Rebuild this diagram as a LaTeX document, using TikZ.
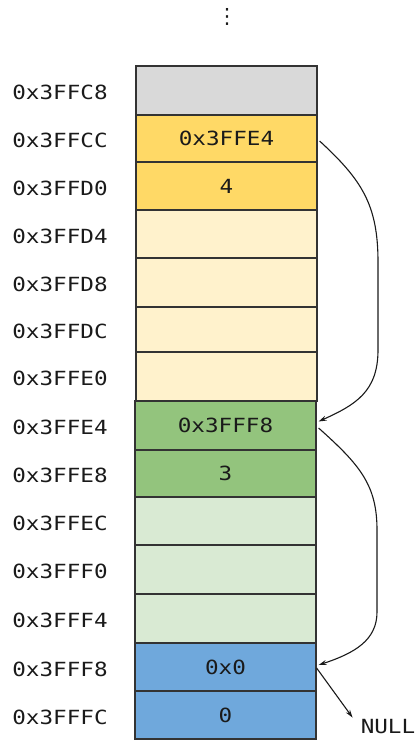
\documentclass[tikz,border=0pt]{standalone}
\usepackage{fontspec}
\setmonofont[FakeStretch=1.16]{DejaVu Sans Mono}
\newfontfamily\dejavu{DejaVu Sans}
\usetikzlibrary{arrows.meta}
\definecolor{cgray}{HTML}{D9D9D9}
\definecolor{cyel}{HTML}{FFD966}
\definecolor{cyell}{HTML}{FFF2CC}
\definecolor{cgrn}{HTML}{93C47D}
\definecolor{cgrnl}{HTML}{D9EAD3}
\definecolor{cblu}{HTML}{6FA8DC}
\definecolor{cellline}{HTML}{333333}
\definecolor{ink}{HTML}{1A1A1A}
\begin{document}
\begin{tikzpicture}[x=1pt,y=-1pt,
  cell/.style={draw=cellline, line width=1.2pt, inner sep=0pt, minimum width=181pt,
    font=\ttfamily\fontsize{19.5}{22}\selectfont, text=ink},
  addr/.style={font=\ttfamily\fontsize{19.5}{22}\selectfont, text=ink, inner sep=0pt},
  ptr/.style={-{Stealth[length=8pt,width=5pt]}, line width=1.1pt, draw=ink}]
\useasboundingbox (0,0) rectangle (416,740);
\node[text=ink, font=\dejavu\fontsize{21}{24}\selectfont, inner sep=0pt] (dots) at (227,17) {⋮};
\foreach \n/\t/\b/\c/\v/\a/\xc in {
  r0/66/115/cgray/{}/0x3FFC8/226.5,
  r1/115/162/cyel/0x3FFE4/0x3FFCC/226.5,
  r2/162/210/cyel/4/0x3FFD0/226.5,
  r3/210/258/cyell/{}/0x3FFD4/226.5,
  r4/258/307/cyell/{}/0x3FFD8/226.5,
  r5/307/352/cyell/{}/0x3FFDC/226.5,
  r6/352/401/cyell/{}/0x3FFE0/226.5,
  r7/401/450/cgrn/0x3FFF8/0x3FFE4/225.5,
  r8/450/497/cgrn/3/0x3FFE8/225.5,
  r9/497/545/cgrnl/{}/0x3FFEC/225.5,
  r10/545/594/cgrnl/{}/0x3FFF0/225.5,
  r11/594/643/cgrnl/{}/0x3FFF4/225.5,
  r12/643/691/cblu/0x0/0x3FFF8/225.5,
  r13/691/739/cblu/0/0x3FFFC/225.5}
{
  \node[cell, fill=\c, minimum height={(\b-\t)*1pt}] (\n) at (\xc,{(\t+\b)/2}) {\v};
  \node[addr] (a\n) at (60,{(\t+\b)/2+2}) {\a};
}
\node[addr] (null) at (388,727) {NULL};
\coordinate (c1a) at (378,262);
\coordinate (c1b) at (378,350);
\coordinate (c2a) at (377,530);
\coordinate (c2b) at (377,612);
\draw[ptr] ([xshift=2pt,yshift=-2.5pt]r1.east) .. controls (362,180) and (378,205) .. (c1a)
  -- (c1b) .. controls (378,392) and (355,405) .. ([xshift=2pt,yshift=4pt]r7.east);
\draw[ptr] ([xshift=2pt,yshift=-2.5pt]r7.east) .. controls (360,465) and (377,485) .. (c2a)
  -- (c2b) .. controls (377,640) and (355,653) .. ([xshift=2pt,yshift=2pt]r12.east);
\draw[ptr] ([yshift=-1pt]r12.east) -- ([xshift=-8pt,yshift=2pt]null.north west);
\end{tikzpicture}
\end{document}
